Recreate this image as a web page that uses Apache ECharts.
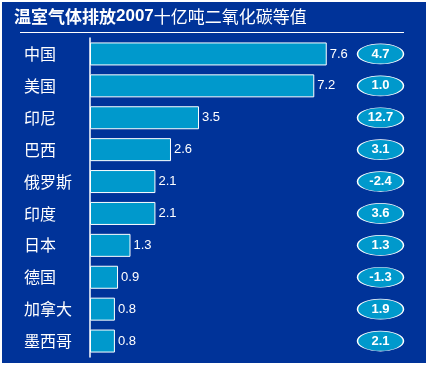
<!DOCTYPE html>
<html><head><meta charset="utf-8">
<script src="https://cdn.jsdelivr.net/npm/echarts@6/dist/echarts.min.js"></script>
<style>html,body{margin:0;padding:0;background:#fff;}#c{width:430px;height:366px;}</style>
</head><body><div id="c"></div>
<script>
const titleBold = '温室气体排放';
const titleYear = '2007';
const titleRest = '十亿吨二氧化碳等值';
const categories = ['中国','美国','印尼','巴西','俄罗斯','印度','日本','德国','加拿大','墨西哥'];
const emissions = [7.6,7.2,3.5,2.6,2.1,2.1,1.3,0.9,0.8,0.8];
const changes = ['4.7','1.0','12.7','3.1','-2.4','3.6','1.3','-1.3','1.9','2.1'];

const cjk = '"Noto Sans CJK SC", sans-serif';
const latin = '"Liberation Sans", Arial, sans-serif';
const chart = echarts.init(document.getElementById('c'), null, {renderer:'canvas'});
chart.setOption({
  backgroundColor: '#ffffff',
  animation: false,
  graphic: [
    {type:'rect', z:-10, shape:{x:2,y:2,width:424,height:361}, style:{fill:'#003399'}},
    {type:'line', shape:{x1:20,y1:32.5,x2:404,y2:32.5}, style:{stroke:'#ffffff', lineWidth:1}}
  ],
  title: {
    left: 9, top: 3,
    text: '{b|' + titleBold + '}{n|' + titleYear + '}{r|' + titleRest + '}',
    textStyle: {
      rich: {
        b: {color:'#fff', fontSize:17, fontWeight:'bold', fontFamily:cjk},
        n: {color:'#fff', fontSize:17, fontWeight:'bold', fontFamily:latin},
        r: {color:'#fff', fontSize:17, fontWeight:'normal', fontFamily:cjk}
      }
    }
  },
  grid: [
    {left:90, top:38, width:311.5, height:319},
    {left:357, top:38, width:47, height:319}
  ],
  xAxis: [
    {gridIndex:0, type:'value', min:0, max:10, show:false},
    {gridIndex:1, type:'category', data:['变化'], show:false}
  ],
  yAxis: [
    {gridIndex:0, type:'category', data:categories, inverse:true,
     axisLine:{show:true, lineStyle:{color:'#ffffff', width:1.5}},
     axisTick:{show:false}, splitLine:{show:false},
     axisLabel:{color:'#ffffff', fontSize:16, fontFamily:cjk, align:'left', margin:66}},
    {gridIndex:1, type:'category', data:categories, inverse:true, show:false}
  ],
  series: [
    {type:'bar', xAxisIndex:0, yAxisIndex:0, data:emissions, barWidth:23,
     itemStyle:{color:'#0099cc', borderColor:'#ffffff', borderWidth:1},
     label:{show:true, position:'right', distance:3, color:'#ffffff', fontSize:13, fontFamily:latin}},
    {type:'scatter', xAxisIndex:1, yAxisIndex:1,
     data: changes.map((c,i)=>[0,i]),
     symbol:'circle', symbolSize:[46,20],
     itemStyle:{color:'#0099cc', borderColor:'#ffffff', borderWidth:1, opacity:1},
     label:{show:true, position:'inside', color:'#ffffff', fontSize:13, fontWeight:'bold', fontFamily:latin,
       formatter: p => changes[p.dataIndex]}}
  ]
});
</script></body></html>
